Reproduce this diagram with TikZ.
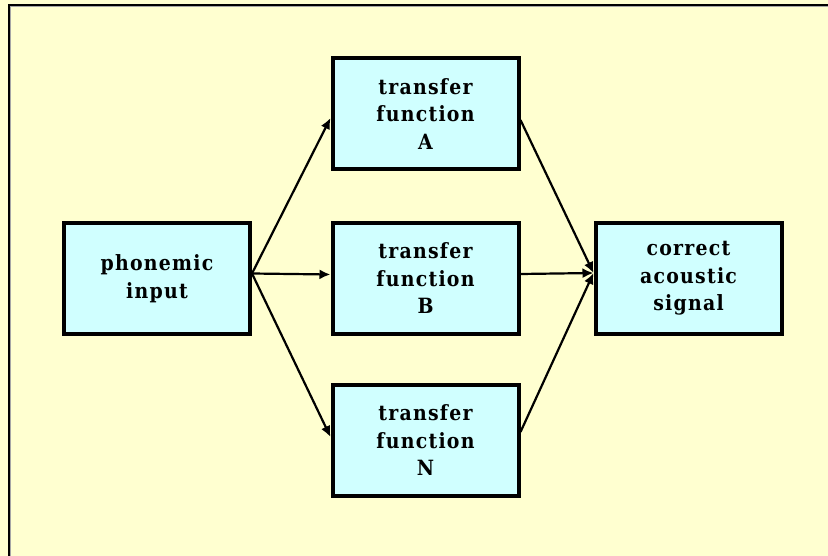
\documentclass[tikz,border=0pt]{standalone}
\usepackage{fontspec}
\setmainfont{DejaVu Serif}
\newfontfamily\boxfont[FakeStretch=0.9, LetterSpace=6]{DejaVu Serif Bold}
\usetikzlibrary{arrows.meta}
\definecolor{paper}{HTML}{FFFFD0}
\definecolor{boxfill}{HTML}{D0FFFF}
\tikzset{
  stage/.style={draw=black, fill=boxfill, line width=4pt, rectangle,
    minimum width=186pt, minimum height=111pt, align=center, inner sep=0pt,
    font=\boxfont\fontsize{21pt}{27.5pt}\selectfont},
  arr/.style={line width=2.2pt, -{Latex[length=11pt,width=10pt]}}
}
\begin{document}
\begin{tikzpicture}[x=1pt, y=-1pt]
  % page and frame
  \fill[paper] (0,0) rectangle (828,556);
  \useasboundingbox (0,0) rectangle (828,556);
  \draw[gray!70, line width=1pt] (10.5,556) -- (10.5,6.5) -- (828,6.5);
  \draw[black, line width=2pt] (9,556) -- (9,5) -- (828,5);

  % processing stages
  \node[stage] (ph) at (157,278.5) {phonemic\\input};
  \node[stage] (A)  at (425.5,114) {transfer\\function\\A};
  \node[stage] (B)  at (425.5,278.5) {transfer\\function\\B};
  \node[stage] (N)  at (425.5,440.5) {transfer\\function\\N};
  \node[stage] (out) at (688.5,278.5) {correct\\acoustic\\signal};

  % fan out from the input
  \draw[arr] ([yshift=5pt]ph.east) -- ([yshift=-4pt]A.west);
  \draw[arr] ([yshift=5pt]ph.east) -- ([yshift=4pt]B.west);
  \draw[arr] ([yshift=5pt]ph.east) -- ([yshift=3.5pt]N.west);

  % fan in to the output
  \draw[arr] ([yshift=-6pt]A.east) -- ([yshift=5.5pt]out.west);
  \draw[arr] ([yshift=4.5pt]B.east) -- ([yshift=5.5pt]out.west);
  \draw[arr] ([yshift=8.5pt]N.east) -- ([yshift=5.5pt]out.west);
\end{tikzpicture}
\end{document}
